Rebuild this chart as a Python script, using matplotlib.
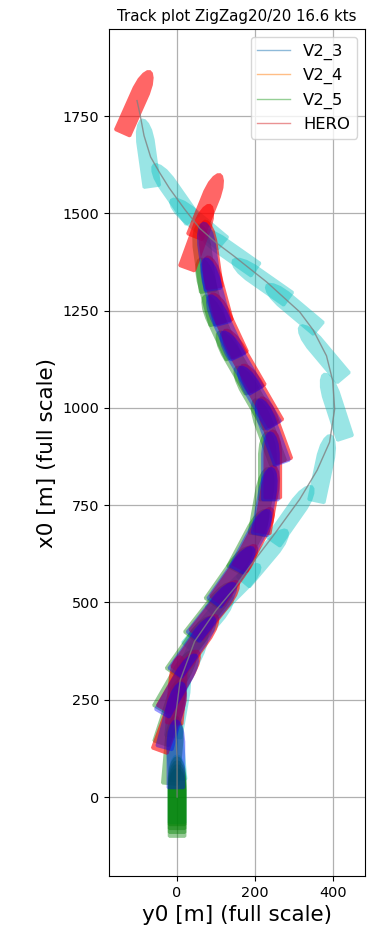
import numpy as np
import matplotlib
matplotlib.use("Agg")
import matplotlib.pyplot as plt
from matplotlib.patches import Polygon
from matplotlib.lines import Line2D

title = "Track plot ZigZag20/20 16.6 kts"
series_names = ["V2_3", "V2_4", "V2_5", "HERO"]
legend_colors = ["tab:blue", "tab:orange", "tab:green", "tab:red"]
x_ticks = [0, 200, 400]
y_ticks = [0, 250, 500, 750, 1000, 1250, 1500, 1750]

# Ship snapshots: lateral position y0 [m], longitudinal position x0 [m], heading psi [deg]
v2_3_y0 = [0, -5, 5, 35, 85, 150, 226, 297, 376, 405, 372, 297, 215, 131, 51, -10, -77]
v2_3_x0 = [20, 130, 240, 350, 450, 535, 619, 727, 845, 1005, 1144, 1260, 1330, 1405, 1479, 1554, 1655]
v2_3_psi = [0, -5, 10, 25, 40, 45, 40, 35, 12, -18, -40, -50, -55, -55, -50, -35, -8]

v2_4_y0 = [-3, -10, 5, 45, 95, 145, 195, 228, 240, 240, 205, 160, 120, 95, 80]
v2_4_x0 = [110, 210, 290, 390, 480, 570, 660, 760, 850, 940, 1030, 1120, 1210, 1300, 1390]
v2_4_psi = [0, 15, 30, 35, 38, 35, 28, 10, 0, -20, -30, -30, -25, -15, -8]

v2_5_y0 = [0, 0, 0, 0, -10, -14, 0, 38, 88, 138, 188, 220, 232, 230, 196, 150, 108, 82, 68]
v2_5_x0 = [-15, -5, 5, 15, 120, 220, 300, 390, 480, 570, 660, 760, 850, 940, 1030, 1120, 1210, 1300, 1385]
v2_5_psi = [0, 0, 0, 0, 5, 18, 30, 35, 38, 35, 28, 10, 0, -20, -30, -30, -25, -15, -8]

hero_y0 = [-15, 0, 10, 52, 102, 152, 202, 234, 246, 246, 211, 166, 126, 100, 84, 55, 78, -105]
hero_x0 = [200, 275, 300, 395, 485, 575, 665, 765, 855, 945, 1035, 1125, 1215, 1305, 1395, 1440, 1520, 1786]
hero_psi = [20, 5, 30, 35, 38, 35, 28, 10, 0, -20, -30, -30, -25, -15, -8, 20, 22, 24]

# Reference trajectory drawn as a thin grey line
track_y0 = [0, 0, -5, 8, 45, 100, 150, 187, 246, 315, 360, 392, 405, 400, 384, 350, 315,
            230, 144, 100, 59, 20, -20, -45, -68, -85, -95, -103]
track_x0 = [0, 100, 200, 300, 400, 480, 540, 593, 670, 765, 840, 912, 997, 1070, 1134, 1200,
            1247, 1324, 1392, 1425, 1461, 1510, 1565, 1605, 1645, 1700, 1753, 1790]

ship_length = 180.0
ship_beam = 48.0

# Hull outline in units of length/beam: flat stern, parallel body, rounded bow
hull_a = np.array([-0.50, -0.48, 0.18, 0.32, 0.42, 0.48, 0.50, 0.48, 0.42, 0.32, 0.18, -0.48, -0.50])
hull_c = np.array([-0.42, -0.50, -0.50, -0.44, -0.32, -0.17, 0.00, 0.17, 0.32, 0.44, 0.50, 0.50, 0.42])


def hull_polygon(yc, xc, psi_deg):
    p = np.deg2rad(psi_deg)
    a = hull_a * ship_length
    c = hull_c * ship_beam
    y = yc + a * np.sin(p) + c * np.cos(p)
    x = xc + a * np.cos(p) - c * np.sin(p)
    return np.column_stack([y, x])


def draw_ships(ax, ys, xs, psis, color, alpha, z):
    for yc, xc, ps in zip(ys, xs, psis):
        ax.add_patch(Polygon(hull_polygon(yc, xc, ps), closed=True, facecolor=color,
                             edgecolor="none", alpha=alpha, zorder=z))


fig = plt.figure(figsize=(3.67, 9.38), dpi=100)
ax = fig.add_axes([109 / 367, 62 / 938, 256 / 367, 847 / 938])

draw_ships(ax, v2_3_y0, v2_3_x0, v2_3_psi, "c", 0.4, 2)
draw_ships(ax, v2_5_y0, v2_5_x0, v2_5_psi, "g", 0.42, 3)
draw_ships(ax, hero_y0, hero_x0, hero_psi, "r", 0.6, 4)
draw_ships(ax, v2_4_y0, v2_4_x0, v2_4_psi, "b", 0.4, 5)
ax.plot(track_y0, track_x0, color="gray", lw=1.0, alpha=0.8, zorder=6)

ax.set_xlim(-175, 483)
ax.set_ylim(-203, 1974)
ax.set_aspect("equal", adjustable="box")
ax.set_xticks(x_ticks)
ax.set_yticks(y_ticks)
ax.tick_params(labelsize=10.4)
ax.grid(True, color="#b0b0b0", lw=0.9)
ax.set_axisbelow(True)

ax.set_xlabel("y0 [m] (full scale)", fontsize=15.5)
ax.set_ylabel("x0 [m] (full scale)", fontsize=15.5)
ax.set_title(title, fontsize=10.8)

handles = [Line2D([], [], color=c, alpha=0.5, lw=1) for c in legend_colors]
ax.legend(handles, series_names, loc="upper right", fontsize=11.8)

fig.savefig("out.png", dpi=100)
